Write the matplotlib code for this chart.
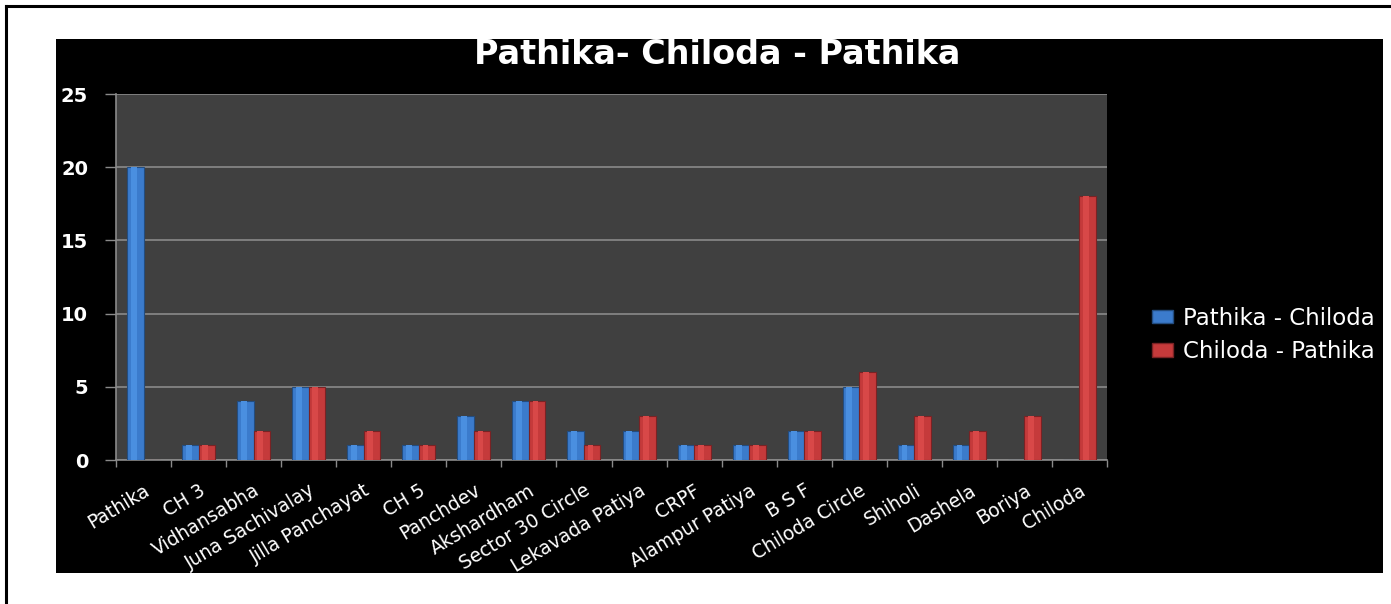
import matplotlib
matplotlib.use("Agg")
import matplotlib.pyplot as plt
import numpy as np
from matplotlib.lines import Line2D
from matplotlib.patches import Rectangle

categories = ["Pathika", "CH 3", "Vidhansabha", "Juna Sachivalay", "Jilla Panchayat",
              "CH 5", "Panchdev", "Akshardham", "Sector 30 Circle", "Lekavada Patiya",
              "CRPF", "Alampur Patiya", "B S F", "Chiloda Circle", "Shiholi",
              "Dashela", "Boriya", "Chiloda"]
pathika_chiloda = [20, 1, 4, 5, 1, 1, 3, 4, 2, 2, 1, 1, 2, 5, 1, 1, 0, 0]
chiloda_pathika = [0, 1, 2, 5, 2, 1, 2, 4, 1, 3, 1, 1, 2, 6, 3, 2, 3, 18]
series_names = ["Pathika - Chiloda", "Chiloda - Pathika"]
title = "Pathika- Chiloda - Pathika"
yticks = [0, 5, 10, 15, 20, 25]

W, H = 1391, 604
fig = plt.figure(figsize=(W / 100, H / 100), dpi=100, facecolor="white")

# outer frame lines (left and top)
fig.add_artist(Line2D([6 / W, 6 / W], [0, 1 - 6 / H], transform=fig.transFigure, color="black", lw=2.2))
fig.add_artist(Line2D([6 / W, 1], [1 - 6 / H, 1 - 6 / H], transform=fig.transFigure, color="black", lw=2.2))

# black chart area
fig.add_artist(Rectangle((56 / W, 1 - 573 / H), 1327 / W, 534 / H, transform=fig.transFigure,
                         facecolor="black", edgecolor="none", zorder=0))

ax = fig.add_axes([116 / W, 1 - 460 / H, 991 / W, 366 / H])
ax.set_facecolor("#404040")

x = np.arange(len(categories))
bw = 0.3
blue, red = "#3b7bcc", "#c53a3b"
b1 = ax.bar(x - bw / 2, pathika_chiloda, bw, color=blue, edgecolor="#234d80", linewidth=0.8, zorder=3)
b2 = ax.bar(x + bw / 2, chiloda_pathika, bw, color=red, edgecolor="#7a2224", linewidth=0.8, zorder=3)
# subtle highlight stripes to hint at the glossy look
ax.bar(x - bw / 2 - bw * 0.1, pathika_chiloda, bw * 0.35, color="#4a8fe0", linewidth=0, zorder=4)
ax.bar(x + bw / 2 - bw * 0.1, chiloda_pathika, bw * 0.35, color="#d84848", linewidth=0, zorder=4)

ax.set_xlim(-0.5, len(categories) - 0.5)
ax.set_ylim(0, 25)
ax.set_yticks(yticks)
ax.set_yticklabels([str(v) for v in yticks], color="white", fontsize=14, fontweight="bold",
                   family="DejaVu Sans")
ax.yaxis.grid(True, color="#8a8a8a", lw=1.2, zorder=1)
ax.set_axisbelow(True)
ax.tick_params(axis="y", length=8, width=1, color="#8a8a8a", pad=12)

ax.set_xticks(x)
ax.set_xticklabels(categories, rotation=31, ha="right", rotation_mode="anchor",
                   color="white", fontsize=13.5, family="DejaVu Sans")
ax.tick_params(axis="x", which="major", length=0, pad=15)
ax.set_xticks(np.arange(-0.5, len(categories)), minor=True)
ax.tick_params(axis="x", which="minor", length=5, width=1, color="#8a8a8a")

for s in ["top", "right"]:
    ax.spines[s].set_visible(False)
for s in ["left", "bottom"]:
    ax.spines[s].set_color("#8a8a8a")
    ax.spines[s].set_linewidth(1.2)

fig.text(717 / W, 1 - 55 / H, title, ha="center", va="center", color="white",
         fontsize=24, fontweight="bold", family="DejaVu Sans")

handles = [Rectangle((0, 0), 1, 1, facecolor=blue, edgecolor="#234d80"),
           Rectangle((0, 0), 1, 1, facecolor=red, edgecolor="#7a2224")]
leg = fig.legend(handles, series_names, loc="center left", bbox_to_anchor=(1152 / W, 1 - 335 / H),
                 frameon=False, handlelength=0.9, handleheight=0.5,
                 handletextpad=0.45, labelspacing=0.45, borderpad=0, borderaxespad=0,
                 prop={"family": "DejaVu Sans", "size": 16.5})
for t in leg.get_texts():
    t.set_color("white")

fig.savefig("out.png", dpi=100, facecolor="white")
